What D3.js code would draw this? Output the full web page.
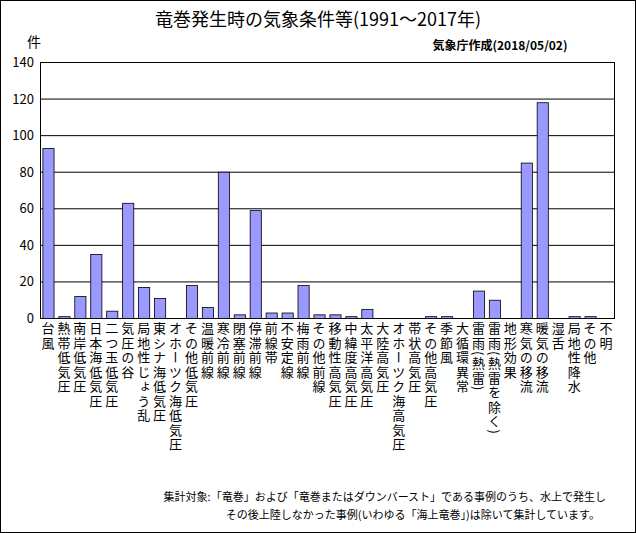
<!DOCTYPE html>
<html><head><meta charset="utf-8">
<script src="https://cdn.jsdelivr.net/npm/d3@7"></script>
<style>body{margin:0;background:#fff}text{font-family:"Noto Sans CJK JP",sans-serif}</style>
</head><body><svg id="c"></svg>
<script>
const W = 636, H = 533;

// ── Data ──────────────────────────────────────────────────────────────────────
const CATEGORIES = ['台風','熱帯低気圧','南岸低気圧','日本海低気圧','二つ玉低気圧','気圧の谷','局地性じょう乱','東シナ海低気圧','オホーツク海低気圧','その他低気圧','温暖前線','寒冷前線','閉塞前線','停滞前線','前線帯','不安定線','梅雨前線','その他前線','移動性高気圧','中緯度高気圧','太平洋高気圧','大陸高気圧','オホーツク海高気圧','帯状高気圧','その他高気圧','季節風','大循環異常','雷雨(熱雷)','雷雨(熱雷を除く)','地形効果','寒気の移流','暖気の移流','湿舌','局地性降水','その他','不明'];
const COUNTS = [93,1,12,35,4,63,17,11,0,18,6,80,2,59,3,3,18,2,2,1,5,0,0,0,1,1,0,15,10,0,85,118,0,1,1,0];
const Y_TICKS = [0,20,40,60,80,100,120,140];

const svg = d3.select('#c').attr('width', W).attr('height', H);
svg.append('rect').attr('x',0.5).attr('y',0.5).attr('width',W-1).attr('height',H-1).attr('fill','#fff').attr('stroke','#000');

const L = 40, R = 614, T = 62, B = 318;
const x = d3.scaleBand().domain(CATEGORIES).range([L, R]).paddingInner(0.3).paddingOuter(0.15);
const y = d3.scaleLinear().domain([0, 140]).range([B, T]);

// gridlines
svg.append('g').selectAll('line').data(Y_TICKS).join('line')
  .attr('x1', L).attr('x2', R).attr('y1', d => y(d)+0.5).attr('y2', d => y(d)+0.5).attr('stroke', '#000');
svg.append('rect').attr('x', L+0.5).attr('y', T+0.5).attr('width', R-L).attr('height', B-T).attr('fill','none').attr('stroke','#000');

svg.append('g').selectAll('rect').data(COUNTS).join('rect')
  .attr('x', (d,i) => x(CATEGORIES[i])+0.5).attr('width', x.bandwidth())
  .attr('y', d => y(d)+0.5).attr('height', d => B - y(d))
  .attr('fill', '#9999ff').attr('stroke', '#000').attr('stroke-width', 0.8);

// y axis labels
svg.append('g').selectAll('text').data(Y_TICKS).join('text')
  .attr('x', L-6).attr('y', d => y(d)+5).attr('text-anchor','end').attr('font-size',13).text(d => d);

// vertical x labels
svg.append('g').selectAll('text').data(CATEGORIES).join('text')
  .attr('x', d => x(d)+x.bandwidth()/2).attr('y', 322)
  .style('writing-mode','vertical-rl').style('letter-spacing','1.5px').attr('font-size',13).text(d => d);

svg.append('text').attr('x',318).attr('y',26).attr('text-anchor','middle').attr('font-size',18).text('竜巻発生時の気象条件等(1991～2017年)');
svg.append('text').attr('x',500).attr('y',50).attr('text-anchor','middle').attr('font-size',12).attr('font-weight','bold').text('気象庁作成(2018/05/02)');
svg.append('text').attr('x',27).attr('y',47).attr('font-size',14).text('件');
svg.append('text').attr('x',606).attr('y',501).attr('text-anchor','end').attr('font-size',11).text('集計対象:「竜巻」および「竜巻またはダウンバースト」である事例のうち、水上で発生し');
svg.append('text').attr('x',600).attr('y',519).attr('text-anchor','end').attr('font-size',11).text('その後上陸しなかった事例(いわゆる「海上竜巻」)は除いて集計しています。');
</script></body></html>
